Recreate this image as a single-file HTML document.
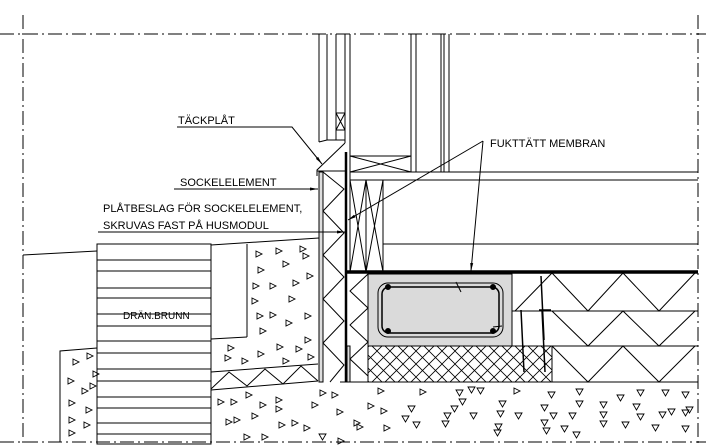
<!DOCTYPE html>
<html><head><meta charset="utf-8"><style>
html,body{margin:0;padding:0;background:#fff;}
svg{display:block;}
text{font-family:"Liberation Sans",sans-serif;font-size:11px;fill:#000;}
</style></head><body>
<svg width="706" height="447" viewBox="0 0 706 447" xmlns="http://www.w3.org/2000/svg">
<defs>
<pattern id="xh" patternUnits="userSpaceOnUse" width="13" height="13">
<path d="M0,0L13,13M13,0L0,13" stroke="#000" stroke-width="0.8"/>
</pattern>
<symbol id="t" viewBox="0 0 8 8" overflow="visible"><path d="M0,0L6,3L0,6Z" fill="none" stroke="#000" stroke-width="0.9"/></symbol>
<symbol id="d" viewBox="0 0 8 8" overflow="visible"><path d="M0,0L7,0L3.5,6Z" fill="none" stroke="#000" stroke-width="0.9"/></symbol>
<marker id="ar" markerWidth="8" markerHeight="6" refX="8" refY="3" orient="auto" markerUnits="userSpaceOnUse"><path d="M0,1.5L8,3L0,4.5Z" fill="#000"/></marker>
</defs>
<g stroke="#000" fill="none" stroke-width="1">
<g stroke-dasharray="14,4,2,4" stroke-width="1">
<line x1="0" y1="34" x2="706" y2="34"/>
<line x1="23" y1="15" x2="23" y2="447"/>
<line x1="698" y1="15" x2="698" y2="447"/>
<line x1="0" y1="442" x2="706" y2="442"/>
</g>
<line x1="319" y1="34" x2="319" y2="142"/>
<line x1="327" y1="34" x2="327" y2="140"/>
<line x1="319" y1="142" x2="327" y2="140"/>
<line x1="336" y1="34" x2="336" y2="140"/>
<line x1="327" y1="140" x2="345" y2="140"/>
<line x1="345" y1="34" x2="345" y2="143"/>
<rect x="336" y="113" width="9" height="17"/>
<path d="M336,113L345,130M345,113L336,130"/>
<line x1="350" y1="34" x2="350" y2="272"/>
<line x1="411" y1="34" x2="411" y2="172"/>
<line x1="416" y1="34" x2="416" y2="172"/>
<line x1="441" y1="34" x2="441" y2="172"/>
<line x1="444" y1="34" x2="444" y2="172"/>
<line x1="449" y1="34" x2="449" y2="172"/>
<rect x="350" y="156" width="61" height="16"/>
<path d="M350,156L411,172M411,156L350,172"/>
<line x1="350" y1="172" x2="698" y2="172"/>
<line x1="350" y1="180" x2="698" y2="180"/>
<line x1="383" y1="244" x2="698" y2="244"/>
<line x1="366" y1="180" x2="366" y2="272"/>
<line x1="383" y1="180" x2="383" y2="272"/>
<path d="M350,180L366,272M366,180L350,272M366,180L383,272M383,180L366,272"/>
<line x1="346" y1="152" x2="346" y2="382" stroke-width="2.5"/>
<path d="M317,176L317,170L345,143"/>
<line x1="317" y1="171" x2="345" y2="171"/>
<rect x="319" y="172" width="4" height="210" fill="#ddd"/>
<polyline points="323,172 344,189 323,211 344,233 323,255 344,277 323,299 344,321 323,343 344,365 330,382"/>
<line x1="347" y1="272" x2="698" y2="272" stroke-width="3.5"/>
<rect x="368" y="274" width="144" height="72" fill="#dadada"/>
<rect x="378" y="283" width="125" height="54" rx="10" stroke-width="1"/>
<rect x="382" y="287" width="117" height="46" rx="7" stroke-width="1.5"/>
<circle cx="388" cy="287" r="2.5" fill="#000"/><circle cx="493" cy="287" r="2.5" fill="#000"/>
<circle cx="388" cy="331" r="2.5" fill="#000"/><circle cx="493" cy="331" r="2.5" fill="#000"/>
<path d="M456,282L461,292M493,327L502,326"/>
<rect x="368" y="346" width="184" height="36" fill="url(#xh)"/>
<rect x="347" y="346" width="3" height="36" fill="#ddd"/>
<line x1="368" y1="274" x2="368" y2="382"/>
<polyline points="368,274 350,291 368,308 350,325 368,342 350,359 368,376"/>
<line x1="512" y1="311" x2="698" y2="311"/>
<line x1="552" y1="346" x2="698" y2="346"/>
<line x1="552" y1="346" x2="552" y2="382"/>
<polyline points="515,311 552,273 588,311 623,273 659,311 695,273"/>
<polyline points="552,311 588,346 623,311 659,346 695,311"/>
<polyline points="552,346 588,382 623,346 659,382 695,346"/>
<line x1="340" y1="382" x2="698" y2="382"/>
<path d="M521,310L524,372M541,276L544,340M542,310L545,372" stroke-width="1.5"/>
<line x1="539" y1="310" x2="551" y2="310" stroke-width="1.5"/>
<line x1="23" y1="255" x2="97" y2="251"/>
<rect x="97" y="244" width="114" height="200"/>
<path d="M97,260H211M97,271H211M97,288H211M97,298H211M97,314H211M97,326H211M97,341H211M97,353H211M97,369H211M97,381H211M97,397H211M97,408H211M97,423H211M97,434H211"/>
<line x1="211" y1="245" x2="319" y2="238"/>
<line x1="247" y1="244" x2="247" y2="337"/>
<line x1="211" y1="339" x2="247" y2="337"/>
<line x1="211" y1="372" x2="318" y2="364"/>
<line x1="211" y1="390" x2="318" y2="381"/>
<polyline points="211,389 229,372 247,386 265,369 283,384 301,366 318,381"/>
<path d="M60,442V351L97,348"/>
<line x1="211" y1="390" x2="211" y2="442"/>
<path d="M177,127H292L322,164" marker-end="url(#ar)"/>
<path d="M174,189H318" marker-end="url(#ar)"/>
<path d="M98,232H345" marker-end="url(#ar)"/>
<path d="M483,141L348,220" marker-end="url(#ar)"/>
<path d="M483,141L471,271" marker-end="url(#ar)"/>
</g>
<g>
<use href="#t" x="256" y="251" width="8" height="8"/><use href="#t" x="276" y="248" width="8" height="8"/><use href="#t" x="300" y="246" width="8" height="8"/>
<use href="#t" x="258" y="267" width="8" height="8"/><use href="#t" x="283" y="261" width="8" height="8"/><use href="#t" x="303" y="253" width="8" height="8"/>
<use href="#t" x="253" y="283" width="8" height="8"/><use href="#t" x="270" y="283" width="8" height="8"/><use href="#t" x="293" y="280" width="8" height="8"/>
<use href="#t" x="252" y="298" width="8" height="8"/><use href="#t" x="289" y="296" width="8" height="8"/><use href="#t" x="307" y="273" width="8" height="8"/>
<use href="#t" x="257" y="313" width="8" height="8"/><use href="#t" x="270" y="312" width="8" height="8"/><use href="#t" x="286" y="320" width="8" height="8"/><use href="#t" x="305" y="313" width="8" height="8"/>
<use href="#t" x="260" y="328" width="8" height="8"/><use href="#t" x="228" y="345" width="8" height="8"/><use href="#t" x="277" y="344" width="8" height="8"/><use href="#t" x="305" y="337" width="8" height="8"/>
<use href="#t" x="225" y="355" width="8" height="8"/><use href="#t" x="242" y="358" width="8" height="8"/><use href="#t" x="258" y="351" width="8" height="8"/><use href="#t" x="283" y="358" width="8" height="8"/><use href="#t" x="296" y="346" width="8" height="8"/><use href="#t" x="308" y="354" width="8" height="8"/>
<use href="#t" x="73" y="359" width="8" height="8"/><use href="#t" x="87" y="353" width="8" height="8"/><use href="#t" x="93" y="371" width="8" height="8"/>
<use href="#t" x="68" y="378" width="8" height="8"/><use href="#t" x="82" y="388" width="8" height="8"/><use href="#t" x="90" y="383" width="8" height="8"/>
<use href="#t" x="69" y="400" width="8" height="8"/><use href="#t" x="86" y="407" width="8" height="8"/><use href="#t" x="69" y="417" width="8" height="8"/><use href="#t" x="84" y="422" width="8" height="8"/><use href="#t" x="69" y="430" width="8" height="8"/>
<use href="#t" x="218" y="399" width="8" height="8"/><use href="#t" x="231" y="399" width="8" height="8"/><use href="#t" x="246" y="392" width="8" height="8"/><use href="#t" x="260" y="402" width="8" height="8"/><use href="#t" x="276" y="397" width="8" height="8"/><use href="#t" x="276" y="406" width="8" height="8"/><use href="#t" x="320" y="390" width="8" height="8"/><use href="#t" x="332" y="392" width="8" height="8"/>
<use href="#t" x="226" y="419" width="8" height="8"/><use href="#t" x="234" y="417" width="8" height="8"/><use href="#t" x="252" y="413" width="8" height="8"/><use href="#t" x="279" y="422" width="8" height="8"/><use href="#t" x="292" y="420" width="8" height="8"/><use href="#t" x="304" y="425" width="8" height="8"/><use href="#t" x="312" y="402" width="8" height="8"/><use href="#t" x="337" y="409" width="8" height="8"/>
<use href="#t" x="244" y="434" width="8" height="8"/><use href="#t" x="262" y="434" width="8" height="8"/><use href="#t" x="338" y="438" width="8" height="8"/><use href="#t" x="354" y="420" width="8" height="8"/>
<use href="#t" x="378" y="388" width="8" height="8"/><use href="#t" x="420" y="389" width="8" height="8"/><use href="#t" x="368" y="403" width="8" height="8"/><use href="#t" x="381" y="408" width="8" height="8"/><use href="#t" x="357" y="424" width="8" height="8"/><use href="#t" x="384" y="425" width="8" height="8"/><use href="#t" x="514" y="388" width="8" height="8"/>
<use href="#d" x="456" y="390" width="8" height="8"/><use href="#d" x="468" y="387" width="8" height="8"/><use href="#d" x="477" y="388" width="8" height="8"/><use href="#d" x="459" y="399" width="8" height="8"/><use href="#d" x="499" y="401" width="8" height="8"/><use href="#d" x="548" y="392" width="8" height="8"/><use href="#d" x="576" y="389" width="8" height="8"/><use href="#d" x="617" y="395" width="8" height="8"/><use href="#d" x="637" y="390" width="8" height="8"/><use href="#d" x="662" y="390" width="8" height="8"/><use href="#d" x="682" y="392" width="8" height="8"/>
<use href="#d" x="408" y="406" width="8" height="8"/><use href="#d" x="451" y="406" width="8" height="8"/><use href="#d" x="497" y="411" width="8" height="8"/><use href="#d" x="541" y="405" width="8" height="8"/><use href="#d" x="576" y="401" width="8" height="8"/><use href="#d" x="600" y="402" width="8" height="8"/><use href="#d" x="633" y="404" width="8" height="8"/><use href="#d" x="668" y="409" width="8" height="8"/><use href="#d" x="686" y="407" width="8" height="8"/>
<use href="#d" x="444" y="413" width="8" height="8"/><use href="#d" x="402" y="416" width="8" height="8"/><use href="#d" x="470" y="413" width="8" height="8"/><use href="#d" x="515" y="413" width="8" height="8"/><use href="#d" x="550" y="413" width="8" height="8"/><use href="#d" x="569" y="413" width="8" height="8"/><use href="#d" x="600" y="412" width="8" height="8"/><use href="#d" x="637" y="414" width="8" height="8"/><use href="#d" x="659" y="412" width="8" height="8"/><use href="#d" x="682" y="410" width="8" height="8"/>
<use href="#d" x="413" y="422" width="8" height="8"/><use href="#d" x="442" y="421" width="8" height="8"/><use href="#d" x="495" y="424" width="8" height="8"/><use href="#d" x="541" y="420" width="8" height="8"/><use href="#d" x="600" y="421" width="8" height="8"/><use href="#d" x="622" y="422" width="8" height="8"/><use href="#d" x="652" y="425" width="8" height="8"/><use href="#d" x="682" y="426" width="8" height="8"/>
<use href="#d" x="494" y="430" width="8" height="8"/><use href="#d" x="543" y="428" width="8" height="8"/><use href="#d" x="561" y="426" width="8" height="8"/><use href="#d" x="573" y="432" width="8" height="8"/><use href="#d" x="319" y="434" width="8" height="8"/>
</g>
<text x="178" y="124">TÄCKPLÅT</text>
<text x="180" y="186">SOCKELELEMENT</text>
<text x="103" y="212">PLÅTBESLAG FÖR SOCKELELEMENT,</text>
<text x="103" y="229">SKRUVAS FAST PÅ HUSMODUL</text>
<text x="490" y="147">FUKTTÄTT MEMBRAN</text>
<text x="123" y="319" style="font-size:10px">DRÄN.BRUNN</text>
</svg>
</body></html>
